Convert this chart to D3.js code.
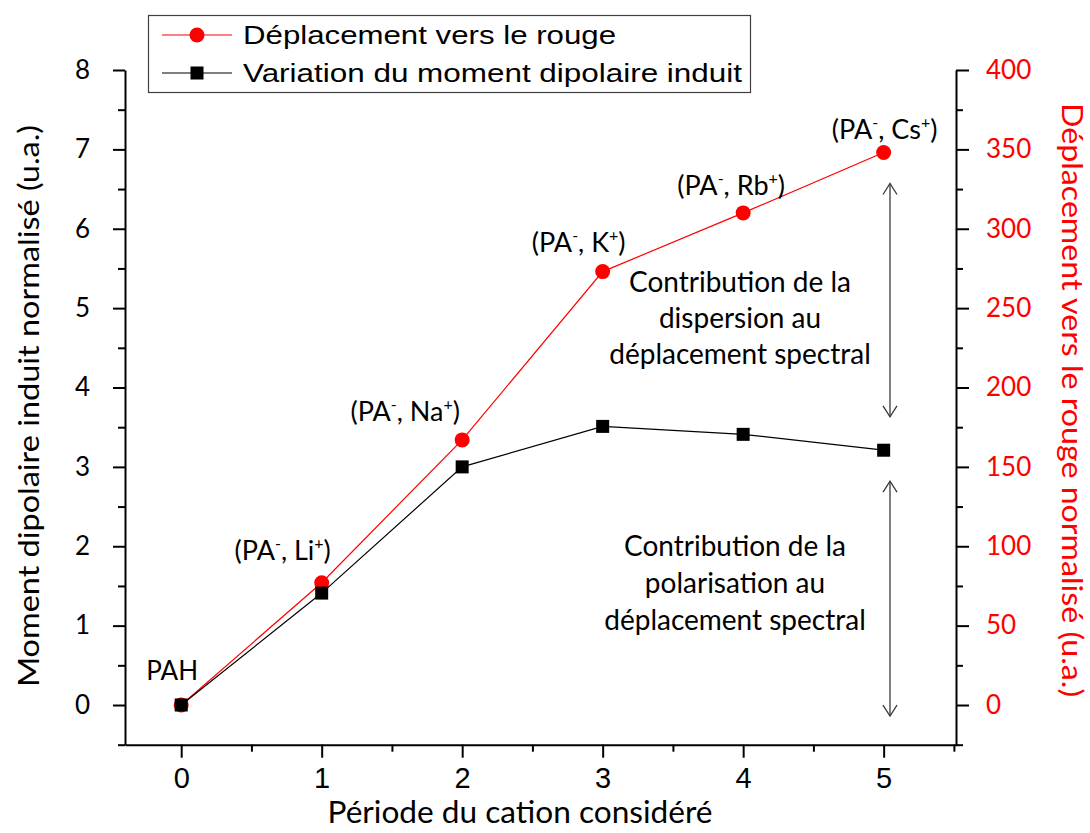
<!DOCTYPE html>
<html>
<head>
<meta charset="utf-8">
<script src="https://cdn.jsdelivr.net/npm/d3@7"></script>
<style>
  body { margin: 0; background: #fff; }
  svg { display: block; }
</style>
</head>
<body>
<svg id="chart" width="1090" height="833"></svg>
<script>
// ---- data ----
const periods = [0, 1, 2, 3, 4, 5];
const redshift = [0, 77, 167, 273, 310, 348];          // right axis (u.a.)
const dipole = [0, 1.41, 3.00, 3.51, 3.41, 3.21];       // left axis (u.a.)
const cations = [null, "Li", "Na", "K", "Rb", "Cs"];    // null -> neutral PAH
const xTicks = [0, 1, 2, 3, 4, 5];
const leftTicks = [0, 1, 2, 3, 4, 5, 6, 7, 8];
const rightTicks = [0, 50, 100, 150, 200, 250, 300, 350, 400];
const seriesNames = ["Déplacement vers le rouge", "Variation du moment dipolaire induit"];
const xTitle = "Période du cation considéré";
const leftTitle = "Moment dipolaire induit normalisé (u.a.)";
const rightTitle = "Déplacement vers le rouge normalisé (u.a.)";
const notes = [
  ["Contribution de la", "dispersion au", "déplacement spectral"],
  ["Contribution de la", "polarisation au", "déplacement spectral"]
];
// vertical extent of the two double arrows, in left-axis units
const arrowSpans = [[6.57, 3.63], [2.82, -0.14]];

// ---- layout ----
const labelOffsets = [[-9, -25], [-39, -23], [-57, -19], [-24, -20], [-12, -18], [1, -14]];
const calibriLike = "Lato, 'Noto Sans', sans-serif";
const RED = "#ff0000";

const svg = d3.select("#chart");

const x = d3.scaleLinear().domain([-0.4, 5.515]).range([125, 956]);
const yL = d3.scaleLinear().domain([-0.5, 8]).range([744.7, 70]);
const yR = d3.scaleLinear().domain([-25, 400]).range([744.7, 70]);

const halves = (arr) => arr.map(v => v - 0.5);

// ---- axes ----
function styleAxis(g) {
  g.select(".domain").attr("stroke", "#000").attr("stroke-width", 2);
  g.selectAll(".tick line").attr("stroke", "#000").attr("stroke-width", 2);
}

// left axis
const gL = svg.append("g").attr("transform", `translate(${x.range()[0]},0)`);
gL.call(d3.axisLeft(yL).tickValues(leftTicks).tickFormat(d3.format("d"))
    .tickSize(12).tickSizeOuter(0).tickPadding(23))
  .call(styleAxis);
gL.selectAll("text").attr("font-family", calibriLike).attr("font-size", 26).attr("fill", "#000");
svg.append("g").attr("transform", `translate(${x.range()[0]},0)`)
  .call(d3.axisLeft(yL).tickValues(halves(leftTicks)).tickSize(7).tickFormat(""))
  .call(g => g.select(".domain").remove())
  .call(styleAxis);

// right axis
const gR = svg.append("g").attr("transform", `translate(${x.range()[1]},0)`);
gR.call(d3.axisRight(yR).tickValues(rightTicks).tickFormat(d3.format("d"))
    .tickSize(13).tickSizeOuter(0).tickPadding(17))
  .call(styleAxis);
gR.selectAll("text").attr("font-family", calibriLike).attr("font-size", 26).attr("fill", RED);
svg.append("g").attr("transform", `translate(${x.range()[1]},0)`)
  .call(d3.axisRight(yR).tickValues(rightTicks.map(v => v - 25)).tickSize(7).tickFormat(""))
  .call(g => g.select(".domain").remove())
  .call(styleAxis);

// bottom axis
const gB = svg.append("g").attr("transform", `translate(0,${yL.range()[0]})`);
gB.call(d3.axisBottom(x).tickValues(xTicks).tickFormat(d3.format("d"))
    .tickSize(13).tickSizeOuter(0).tickPadding(10))
  .call(styleAxis);
gB.selectAll("text")
  .attr("font-family", "'Liberation Sans Narrow', 'Liberation Sans', Arial, sans-serif")
  .attr("font-size", 29).attr("fill", "#000");
svg.append("g").attr("transform", `translate(0,${yL.range()[0]})`)
  .call(d3.axisBottom(x).tickValues(xTicks.map(v => v + 0.5)).tickSize(7).tickFormat(""))
  .call(g => g.select(".domain").remove())
  .call(styleAxis);

// ---- axis titles ----
svg.append("text")
  .attr("transform", `translate(27,${(125 + 687) / 2}) rotate(-90)`)
  .attr("text-anchor", "middle").attr("dominant-baseline", "central")
  .attr("font-family", calibriLike).attr("font-size", 29)
  .attr("textLength", 562).attr("lengthAdjust", "spacingAndGlyphs")
  .text(leftTitle);

svg.append("text")
  .attr("transform", `translate(1073,${(103 + 697) / 2}) rotate(90)`)
  .attr("text-anchor", "middle").attr("dominant-baseline", "central")
  .attr("font-family", calibriLike).attr("font-size", 29).attr("fill", RED)
  .attr("textLength", 594).attr("lengthAdjust", "spacingAndGlyphs")
  .text(rightTitle);

svg.append("text")
  .attr("x", 520).attr("y", 823)
  .attr("text-anchor", "middle")
  .attr("font-family", calibriLike).attr("font-size", 30)
  .attr("textLength", 385).attr("lengthAdjust", "spacingAndGlyphs")
  .text(xTitle);

// ---- series ----
const redLine = d3.line().x((d, i) => x(periods[i])).y(d => yR(d));
const blackLine = d3.line().x((d, i) => x(periods[i])).y(d => yL(d));

svg.append("path").datum(redshift)
  .attr("d", redLine).attr("fill", "none").attr("stroke", RED).attr("stroke-width", 1.2);
svg.selectAll("circle.red").data(redshift).join("circle")
  .attr("class", "red")
  .attr("cx", (d, i) => x(periods[i])).attr("cy", d => yR(d))
  .attr("r", 7.5).attr("fill", RED);

svg.append("path").datum(dipole)
  .attr("d", blackLine).attr("fill", "none").attr("stroke", "#000").attr("stroke-width", 1.2);
svg.selectAll("rect.black").data(dipole).join("rect")
  .attr("class", "black")
  .attr("x", (d, i) => x(periods[i]) - 6.5).attr("y", d => yL(d) - 6.5)
  .attr("width", 13).attr("height", 13).attr("fill", "#000");

// ---- point labels ----
cations.forEach((c, i) => {
  const t = svg.append("text")
    .attr("x", x(periods[i]) + labelOffsets[i][0])
    .attr("y", yR(redshift[i]) + labelOffsets[i][1])
    .attr("text-anchor", "middle")
    .attr("font-family", calibriLike).attr("font-size", 27).attr("fill", "#000");
  if (c === null) {
    t.attr("font-size", 26).text("PAH");
    return;
  }
  t.append("tspan").text("(PA");
  t.append("tspan").attr("font-size", 16).attr("dy", -11).text("-");
  t.append("tspan").attr("dy", 11).text(", " + c);
  t.append("tspan").attr("font-size", 16).attr("dy", -11).text("+");
  t.append("tspan").attr("dy", 11).text(")");
});

// ---- annotations ----
const noteBaselines = [[292, 328, 364], [556, 593, 630]];
const noteCenters = [740, 735];
notes.forEach((lines, k) => {
  lines.forEach((line, j) => {
    svg.append("text")
      .attr("x", noteCenters[k]).attr("y", noteBaselines[k][j])
      .attr("text-anchor", "middle")
      .attr("font-family", calibriLike).attr("font-size", 28)
      .text(line);
  });
});

// double arrows
const arrowX = 890;
arrowSpans.forEach(([top, bottom]) => {
  const y0 = yL(top), y1 = yL(bottom);
  const g = svg.append("g").attr("stroke", "#3a3a3a").attr("stroke-width", 1.3).attr("fill", "none");
  g.append("line").attr("x1", arrowX).attr("x2", arrowX).attr("y1", y0).attr("y2", y1);
  g.append("path").attr("d", `M${arrowX - 7},${y0 + 11} L${arrowX},${y0} L${arrowX + 7},${y0 + 11}`);
  g.append("path").attr("d", `M${arrowX - 7},${y1 - 11} L${arrowX},${y1} L${arrowX + 7},${y1 - 11}`);
});

// ---- legend ----
const legend = svg.append("g");
legend.append("rect")
  .attr("x", 148.5).attr("y", 15.5).attr("width", 602).attr("height", 77)
  .attr("fill", "#fff").attr("stroke", "#404040").attr("stroke-width", 1.2);
const legendRows = [35, 73];
const legendTextLen = [373, 499];
seriesNames.forEach((name, i) => {
  const yy = legendRows[i];
  const color = i === 0 ? RED : "#000";
  legend.append("line").attr("x1", 162).attr("x2", 232).attr("y1", yy).attr("y2", yy)
    .attr("stroke", color).attr("stroke-width", 1.2);
  if (i === 0) {
    legend.append("circle").attr("cx", 197).attr("cy", yy).attr("r", 7.5).attr("fill", RED);
  } else {
    legend.append("rect").attr("x", 197 - 6.5).attr("y", yy - 6.5).attr("width", 13).attr("height", 13).attr("fill", "#000");
  }
  legend.append("text")
    .attr("x", 243).attr("y", yy).attr("dominant-baseline", "central")
    .attr("font-family", "'Liberation Sans', Arial, sans-serif").attr("font-size", 26)
    .attr("textLength", legendTextLen[i]).attr("lengthAdjust", "spacingAndGlyphs")
    .text(name);
});
</script>
</body>
</html>
